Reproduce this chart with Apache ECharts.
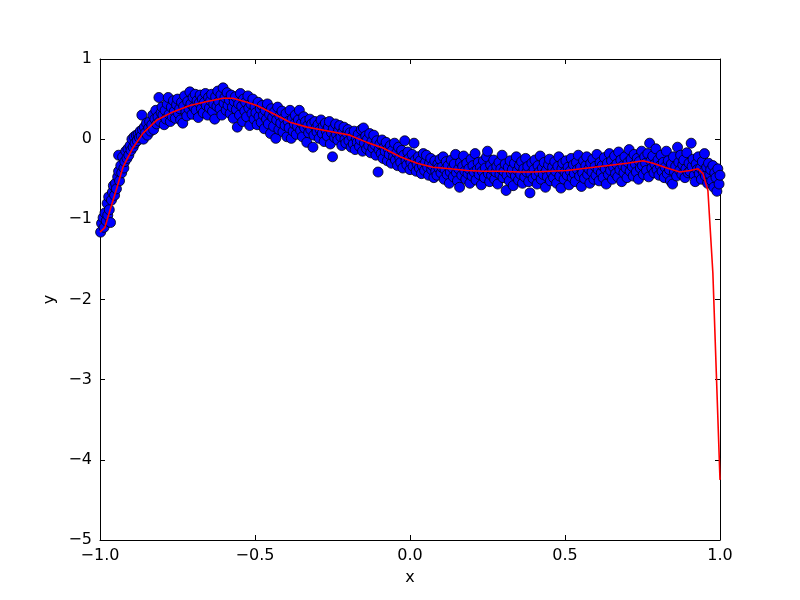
<!DOCTYPE html>
<html>
<head>
<meta charset="utf-8">
<script src="https://cdn.jsdelivr.net/npm/echarts@6/dist/echarts.min.js"></script>
<style>html,body{margin:0;padding:0;background:#fff}#c{width:800px;height:600px}</style>
</head>
<body>
<div id="c"></div>
<script>
var xTicks = [-1.0, -0.5, 0.0, 0.5, 1.0];
var yTicks = [-5, -4, -3, -2, -1, 0, 1];
var xLabel = 'x';
var yLabel = 'y';

var scatterPoints = [
[-0.998,-1.16],[-0.995,-1.05],[-0.99,-0.98],[-0.987,-1.10],[-0.984,-0.92],[-0.98,-1.02],[-0.977,-0.80],[-0.975,-0.95],[-0.972,-0.72],[-0.97,-0.88],[-0.966,-1.04],[-0.963,-0.76],[-0.96,-0.66],[-0.957,-0.58],[-0.953,-0.70],[-0.95,-0.55],[-0.947,-0.62],[-0.943,-0.47],[-0.94,-0.40],[-0.94,-0.20],[-0.937,-0.52],[-0.933,-0.33],[-0.93,-0.42],[-0.927,-0.22],[-0.923,-0.36],[-0.92,-0.28],[-0.917,-0.15],[-0.913,-0.24],[-0.91,-0.12],[-0.907,-0.20],[-0.903,-0.08],[-0.90,-0.14],
[-0.897,0.0],[-0.893,-0.10],[-0.89,0.03],[-0.887,-0.05],[-0.883,0.05],[-0.88,-0.02],[-0.877,0.06],[-0.873,0.02],[-0.87,0.10],[-0.867,0.04],[-0.865,0.30],[-0.863,0.12],[-0.86,0.0],[-0.857,0.15],[-0.853,0.08],[-0.85,0.20],[-0.847,0.05],[-0.843,0.14],[-0.84,0.22],[-0.837,0.10],[-0.833,0.18],[-0.83,0.30],[-0.827,0.12],[-0.823,0.25],[-0.82,0.36],[-0.817,0.19],[-0.813,0.28],[-0.81,0.52],[-0.807,0.22],[-0.803,0.33],[-0.80,0.40],
[-0.797,0.30],[-0.793,0.18],[-0.79,0.36],[-0.787,0.25],[-0.783,0.44],[-0.78,0.52],[-0.777,0.31],[-0.773,0.22],[-0.77,0.40],[-0.767,0.28],[-0.763,0.48],[-0.76,0.35],[-0.757,0.26],[-0.753,0.43],[-0.75,0.50],[-0.747,0.32],[-0.743,0.38],[-0.74,0.24],[-0.737,0.46],[-0.733,0.20],[-0.73,0.41],[-0.727,0.54],[-0.723,0.34],[-0.72,0.29],[-0.717,0.47],[-0.713,0.38],[-0.71,0.59],[-0.707,0.44],[-0.703,0.31],[-0.70,0.52],[-0.697,0.40],[-0.693,0.56],[-0.69,0.36],[-0.687,0.48],[-0.683,0.27],[-0.68,0.45],[-0.677,0.55],[-0.673,0.38],[-0.67,0.50],[-0.667,0.33],[-0.663,0.46],[-0.66,0.57],[-0.657,0.42],[-0.653,0.30],[-0.65,0.52],[-0.647,0.39],[-0.643,0.48],[-0.64,0.56],[-0.637,0.35],[-0.633,0.44],[-0.63,0.25],[-0.627,0.53],[-0.623,0.41],[-0.62,0.60],[-0.617,0.47],[-0.613,0.38],[-0.61,0.55],[-0.607,0.30],[-0.603,0.64],[-0.60,0.45],[-0.597,0.52],[-0.593,0.36],[-0.59,0.58],[-0.587,0.42],[-0.583,0.49],[-0.58,0.32],[-0.577,0.55],[-0.573,0.40],[-0.57,0.26],[-0.567,0.47],[-0.563,0.53],[-0.56,0.37],[-0.557,0.15],[-0.553,0.44],[-0.55,0.30],[-0.547,0.57],[-0.543,0.41],[-0.54,0.22],[-0.537,0.50],[-0.533,0.35],[-0.53,0.46],[-0.527,0.28],[-0.523,0.54],[-0.52,0.39],[-0.517,0.17],[-0.513,0.44],[-0.51,0.32],[-0.507,0.50],[-0.503,0.25],[-0.50,0.40],
[-0.497,0.33],[-0.493,0.18],[-0.49,0.46],[-0.487,0.28],[-0.483,0.38],[-0.48,0.21],[-0.477,0.42],[-0.473,0.30],[-0.47,0.13],[-0.467,0.36],[-0.463,0.25],[-0.46,0.44],[-0.457,0.19],[-0.453,0.31],[-0.45,0.07],[-0.447,0.38],[-0.443,0.27],[-0.44,0.16],[-0.437,0.34],[-0.433,0.01],[-0.43,0.24],[-0.427,0.40],[-0.423,0.12],[-0.42,0.29],[-0.417,0.20],[-0.413,0.35],[-0.41,0.09],[-0.407,0.26],[-0.403,0.17],[-0.40,0.32],[-0.397,0.03],[-0.393,0.22],[-0.39,0.14],[-0.387,0.36],[-0.383,0.01],[-0.38,0.25],[-0.377,0.10],[-0.373,0.19],[-0.37,0.30],[-0.367,0.06],[-0.363,0.16],[-0.36,0.24],[-0.357,0.36],[-0.353,0.11],[-0.35,0.20],[-0.347,0.03],[-0.343,0.28],[-0.34,0.14],[-0.337,0.22],[-0.333,-0.04],[-0.33,0.17],[-0.327,0.08],[-0.323,0.25],[-0.32,0.12],[-0.317,0.19],[-0.313,-0.10],[-0.31,0.05],[-0.307,0.22],[-0.303,0.14],[-0.30,0.09],[-0.297,0.18],[-0.293,0.01],[-0.29,0.12],[-0.287,0.24],[-0.283,0.07],[-0.28,0.16],[-0.277,-0.03],[-0.273,0.20],[-0.27,0.10],[-0.267,0.04],[-0.263,0.15],[-0.26,0.22],[-0.257,-0.06],[-0.253,0.08],[-0.25,-0.22],[-0.247,0.13],[-0.243,0.02],[-0.24,0.19],[-0.237,0.06],[-0.233,-0.01],[-0.23,0.11],[-0.227,0.17],[-0.223,0.03],[-0.22,-0.08],[-0.217,0.09],[-0.213,0.15],[-0.21,0.00],[-0.207,-0.05],[-0.203,0.07],[-0.20,0.12],
[-0.197,-0.02],[-0.193,0.08],[-0.19,-0.10],[-0.187,0.03],[-0.183,-0.06],[-0.18,0.10],[-0.177,-0.13],[-0.173,0.01],[-0.17,-0.04],[-0.167,0.06],[-0.163,-0.09],[-0.16,-0.01],[-0.157,0.12],[-0.153,-0.15],[-0.15,0.14],[-0.147,-0.05],[-0.143,0.04],[-0.14,-0.12],[-0.137,0.00],[-0.133,-0.08],[-0.13,0.07],[-0.127,-0.17],[-0.123,-0.03],[-0.12,-0.11],[-0.117,0.05],[-0.113,-0.07],[-0.11,-0.20],[-0.107,-0.02],[-0.103,-0.41],[-0.10,-0.13],[-0.097,-0.06],[-0.093,-0.18],[-0.09,-0.01],[-0.087,-0.24],[-0.083,-0.10],[-0.08,-0.15],[-0.077,-0.04],[-0.073,-0.27],[-0.07,-0.12],[-0.067,-0.19],[-0.063,-0.08],[-0.06,-0.30],[-0.057,-0.14],[-0.053,-0.22],[-0.05,-0.05],[-0.047,-0.26],[-0.043,-0.17],[-0.04,-0.33],[-0.037,-0.10],[-0.033,-0.23],[-0.03,-0.29],[-0.027,-0.14],[-0.023,-0.36],[-0.02,-0.20],[-0.017,-0.02],[-0.013,-0.27],[-0.01,-0.32],[-0.007,-0.16],[-0.003,-0.24],[0.0,-0.38],[0.003,-0.29],[0.007,-0.19],[0.01,-0.34],[0.013,-0.05],[0.017,-0.26],[0.02,-0.40],[0.023,-0.31],[0.027,-0.22],[0.03,-0.36],[0.033,-0.27],[0.037,-0.43],[0.04,-0.33],[0.043,-0.18],[0.047,-0.39],[0.05,-0.29],[0.053,-0.20],[0.057,-0.35],[0.06,-0.45],[0.063,-0.30],[0.067,-0.24],[0.07,-0.38],[0.073,-0.33],[0.077,-0.48],[0.08,-0.27],[0.083,-0.40],[0.087,-0.45],[0.09,-0.31],[0.093,-0.36],[0.097,-0.25],[0.10,-0.42],
[0.103,-0.35],[0.107,-0.22],[0.11,-0.50],[0.113,-0.38],[0.117,-0.28],[0.12,-0.44],[0.123,-0.33],[0.127,-0.55],[0.13,-0.41],[0.133,-0.26],[0.137,-0.36],[0.14,-0.47],[0.143,-0.31],[0.147,-0.19],[0.15,-0.42],[0.153,-0.52],[0.157,-0.37],[0.16,-0.60],[0.163,-0.29],[0.167,-0.45],[0.17,-0.34],[0.173,-0.21],[0.177,-0.40],[0.18,-0.50],[0.183,-0.30],[0.187,-0.43],[0.19,-0.37],[0.193,-0.55],[0.197,-0.25],[0.20,-0.46],[0.203,-0.33],[0.207,-0.41],[0.21,-0.18],[0.213,-0.51],[0.217,-0.38],[0.22,-0.29],[0.223,-0.44],[0.227,-0.35],[0.23,-0.57],[0.233,-0.40],[0.237,-0.27],[0.24,-0.48],[0.243,-0.36],[0.247,-0.22],[0.25,-0.15],[0.253,-0.43],[0.257,-0.53],[0.26,-0.32],[0.263,-0.45],[0.267,-0.38],[0.27,-0.26],[0.273,-0.50],[0.277,-0.41],[0.28,-0.34],[0.283,-0.56],[0.287,-0.29],[0.29,-0.44],[0.293,-0.37],[0.297,-0.20],[0.30,-0.48],[0.303,-0.40],[0.307,-0.31],[0.31,-0.64],[0.313,-0.45],[0.317,-0.35],[0.32,-0.52],[0.323,-0.27],[0.327,-0.42],[0.33,-0.38],[0.333,-0.58],[0.337,-0.30],[0.34,-0.46],[0.343,-0.22],[0.347,-0.39],[0.35,-0.51],[0.353,-0.33],[0.357,-0.44],[0.36,-0.28],[0.363,-0.55],[0.367,-0.37],[0.37,-0.47],[0.373,-0.24],[0.377,-0.41],[0.38,-0.34],[0.383,-0.53],[0.387,-0.67],[0.39,-0.43],[0.393,-0.30],[0.397,-0.49],[0.40,-0.38],[0.403,-0.26],[0.407,-0.45],[0.41,-0.56],[0.413,-0.33],[0.417,-0.41],[0.42,-0.21],[0.423,-0.50],[0.427,-0.36],[0.43,-0.44],[0.433,-0.29],[0.437,-0.60],[0.44,-0.39],[0.443,-0.47],[0.447,-0.32],[0.45,-0.25],[0.453,-0.52],[0.457,-0.42],[0.46,-0.35],[0.463,-0.48],[0.467,-0.28],[0.47,-0.40],[0.473,-0.55],[0.477,-0.34],[0.48,-0.22],[0.483,-0.46],[0.487,-0.61],[0.49,-0.37],[0.493,-0.30],[0.497,-0.50],[0.50,-0.41],
[0.503,-0.27],[0.507,-0.45],[0.51,-0.35],[0.513,-0.57],[0.517,-0.40],[0.52,-0.24],[0.523,-0.48],[0.527,-0.32],[0.53,-0.43],[0.533,-0.53],[0.537,-0.29],[0.54,-0.38],[0.543,-0.20],[0.547,-0.46],[0.55,-0.35],[0.553,-0.59],[0.557,-0.42],[0.56,-0.27],[0.563,-0.49],[0.567,-0.33],[0.57,-0.22],[0.573,-0.44],[0.577,-0.37],[0.58,-0.55],[0.583,-0.30],[0.587,-0.41],[0.59,-0.25],[0.593,-0.50],[0.597,-0.34],[0.60,-0.45],[0.603,-0.19],[0.607,-0.38],[0.61,-0.52],[0.613,-0.29],[0.617,-0.42],[0.62,-0.33],[0.623,-0.48],[0.627,-0.23],[0.63,-0.37],[0.633,-0.56],[0.637,-0.30],[0.64,-0.44],[0.643,-0.18],[0.647,-0.39],[0.65,-0.27],[0.653,-0.50],[0.657,-0.35],[0.66,-0.21],[0.663,-0.43],[0.667,-0.31],[0.67,-0.47],[0.673,-0.16],[0.677,-0.38],[0.68,-0.26],[0.683,-0.53],[0.687,-0.33],[0.69,-0.42],[0.693,-0.22],[0.697,-0.36],[0.70,-0.48],[0.703,-0.29],[0.707,-0.13],[0.71,-0.40],[0.713,-0.25],[0.717,-0.34],[0.72,-0.46],[0.723,-0.19],[0.727,-0.31],[0.73,-0.41],[0.733,-0.24],[0.737,-0.50],[0.74,-0.28],[0.743,-0.36],[0.747,-0.15],[0.75,-0.33],[0.753,-0.44],[0.757,-0.22],[0.76,-0.30],[0.763,-0.39],[0.767,-0.18],[0.77,-0.47],[0.773,-0.05],[0.777,-0.27],[0.78,-0.36],[0.783,-0.21],[0.787,-0.42],[0.79,-0.31],[0.793,-0.12],[0.797,-0.38],[0.80,-0.26],[0.803,-0.45],[0.807,-0.33],[0.81,-0.20],[0.813,-0.40],[0.817,-0.29],[0.82,-0.48],[0.823,-0.35],[0.827,-0.15],[0.83,-0.43],[0.833,-0.27],[0.837,-0.38],[0.84,-0.52],[0.843,-0.31],[0.847,-0.56],[0.85,-0.22],[0.853,-0.41],[0.857,-0.34],[0.86,-0.46],[0.863,-0.10],[0.867,-0.29],[0.87,-0.39],[0.873,-0.20],[0.877,-0.44],[0.88,-0.32],[0.883,-0.26],[0.887,-0.48],[0.89,-0.37],[0.893,-0.17],[0.897,-0.42],[0.90,-0.30],
[0.903,-0.40],[0.907,-0.05],[0.91,-0.34],[0.913,-0.25],[0.917,-0.45],[0.92,-0.53],[0.923,-0.31],[0.927,-0.38],[0.93,-0.22],[0.933,-0.43],[0.937,-0.36],[0.94,-0.50],[0.943,-0.28],[0.947,-0.41],[0.95,-0.18],[0.953,-0.46],[0.957,-0.35],[0.96,-0.55],[0.963,-0.30],[0.967,-0.44],[0.97,-0.38],[0.973,-0.52],[0.977,-0.33],[0.98,-0.60],[0.983,-0.42],[0.987,-0.48],[0.99,-0.65],[0.993,-0.37],[0.997,-0.56],[1.0,-0.45]
];

var fitX = [-1.0,-0.984,-0.968,-0.945,-0.926,-0.894,-0.861,-0.816,-0.765,-0.71,-0.655,-0.603,-0.571,-0.526,-0.494,-0.442,-0.387,-0.332,-0.248,-0.194,-0.139,-0.087,-0.032,0.023,0.074,0.129,0.184,0.235,0.29,0.355,0.397,0.506,0.613,0.7,0.752,0.784,0.829,0.871,0.903,0.929,0.945,0.961,0.977,1.0];
var fitY = [-1.16,-1.10,-0.89,-0.60,-0.35,-0.11,0.075,0.24,0.34,0.42,0.47,0.51,0.51,0.46,0.42,0.32,0.21,0.15,0.09,0.05,-0.04,-0.11,-0.22,-0.30,-0.35,-0.37,-0.39,-0.40,-0.40,-0.41,-0.41,-0.39,-0.34,-0.30,-0.27,-0.30,-0.36,-0.41,-0.39,-0.37,-0.43,-0.64,-1.67,-4.25];

var fitData = fitX.map(function (x, i) { return [x, fitY[i]]; });

function minusFmt(v, d) {
  var s = d ? v.toFixed(d) : String(Math.round(v));
  return s.replace('-', '\u2212');
}

var font = 'DejaVu Sans';
var chart = echarts.init(document.getElementById('c'), null, {renderer: 'canvas'});

var xBase = {
  type: 'value', min: xTicks[0], max: xTicks[xTicks.length - 1], interval: 0.5,
  splitLine: {show: false},
  axisLine: {show: true, onZero: false, lineStyle: {color: '#000', width: 1}},
  axisTick: {show: true, inside: true, length: 5, lineStyle: {color: '#000'}}
};
var yBase = {
  type: 'value', min: yTicks[0], max: yTicks[yTicks.length - 1], interval: 1,
  splitLine: {show: false},
  axisLine: {show: true, onZero: false, lineStyle: {color: '#000', width: 1}},
  axisTick: {show: true, inside: true, length: 5, lineStyle: {color: '#000'}}
};

chart.setOption({
  animation: false,
  backgroundColor: '#fff',
  grid: {left: 100, right: 80, top: 59, bottom: 60, containLabel: false},
  xAxis: [
    Object.assign({}, xBase, {
      position: 'bottom',
      name: xLabel, nameLocation: 'middle', nameGap: 30,
      nameTextStyle: {fontFamily: font, fontSize: 16, color: '#000'},
      axisLabel: {show: true, margin: 8, fontFamily: font, fontSize: 16, color: '#000',
        showMinLabel: true, showMaxLabel: true,
        formatter: function (v) { return minusFmt(v, 1); }}
    }),
    Object.assign({}, xBase, {position: 'top', axisLabel: {show: false}})
  ],
  yAxis: [
    Object.assign({}, yBase, {
      position: 'left',
      name: yLabel, nameLocation: 'middle', nameGap: 30, nameRotate: 90,
      nameTextStyle: {fontFamily: font, fontSize: 16, color: '#000'},
      axisLabel: {show: true, margin: 8, fontFamily: font, fontSize: 16, color: '#000',
        showMinLabel: true, showMaxLabel: true,
        formatter: function (v) { return minusFmt(v, 0); }}
    }),
    Object.assign({}, yBase, {position: 'right', axisLabel: {show: false}})
  ],
  series: [
    {
      type: 'scatter', xAxisIndex: 0, yAxisIndex: 0,
      data: scatterPoints, symbol: 'circle', symbolSize: 10,
      itemStyle: {color: '#0000ff', borderColor: '#000', borderWidth: 0.8, opacity: 1},
      z: 2
    },
    {
      type: 'line', xAxisIndex: 0, yAxisIndex: 0,
      data: fitData, showSymbol: false, symbol: 'none',
      lineStyle: {color: '#ff0000', width: 1.6},
      z: 3
    }
  ]
});
</script>
</body>
</html>
